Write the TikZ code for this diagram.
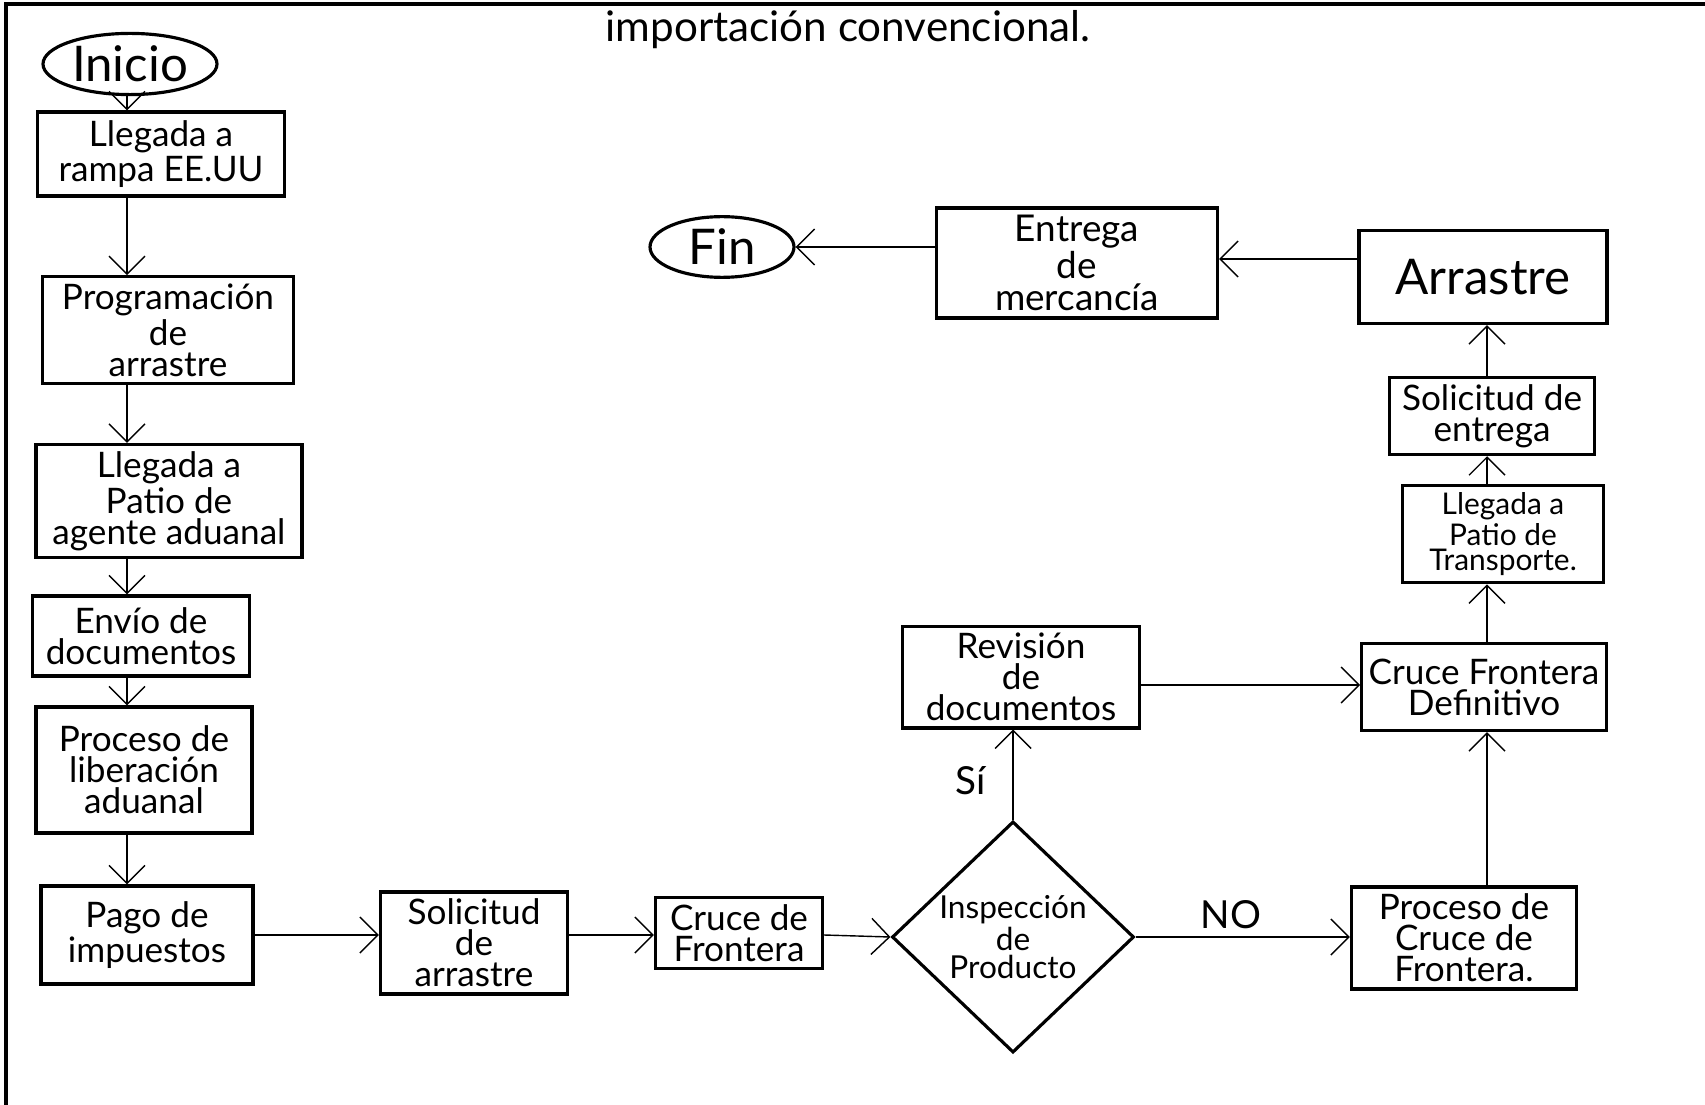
\documentclass[tikz,border=0pt]{standalone}
\usepackage{fontspec}
\setmainfont{Lato}
\usetikzlibrary{positioning,arrows.meta,shapes.geometric}

\begin{document}
\begin{tikzpicture}[
  x=0.1mm, y=-0.1mm,
  paso/.style={rectangle, draw, line width=0.9pt, align=center, inner sep=2pt, font=\fontsize{10}{8.8}\selectfont},
  terminal/.style={ellipse, draw, line width=0.9pt, inner sep=1pt, font=\fontsize{14}{14}\selectfont},
  decision/.style={diamond, draw, line width=0.9pt, align=center, inner sep=0pt, font=\fontsize{9}{8}\selectfont},
  etiqueta/.style={font=\fontsize{11}{11}\selectfont},
  >={Straight Barb[length=1.8mm,width=3.6mm]}
]
  \useasboundingbox (0,0) rectangle (1705,1105);
  \draw[line width=1pt] (6,1105) -- (6,4) -- (1705,4);
  \node[font=\fontsize{12}{12}\selectfont] (titulo) at (848,30) {importación convencional.};

  \coordinate (colizq) at (127,0);
  \coordinate (colder) at (1487,0);
  \coordinate (filainf) at (0,935);
  \coordinate (filarev) at (0,685);
  \coordinate (filaarr) at (0,259);

  \node[terminal, minimum width=1.74cm, minimum height=0.46cm] (inicio) at (130,64) {Inicio};
  \node[paso, minimum width=2.47cm, minimum height=0.84cm] (rampa) at (161,154) {Llegada a\\rampa EE.UU};
  \node[paso, minimum width=2.51cm, minimum height=1.01cm] (programacion) at (168,330) {Programación\\de\\arrastre};
  \node[paso, minimum width=2.66cm, minimum height=1.01cm] (patioagente) at (169,501) {Llegada a\\Patio de\\agente aduanal};
  \node[paso, minimum width=2.17cm, minimum height=0.80cm] (envio) at (141,636) {Envío de\\documentos};
  \node[paso, minimum width=2.16cm, minimum height=1.26cm] (liberacion) at (144,770) {Proceso de\\liberación\\aduanal};
  \node[paso, minimum width=2.12cm, minimum height=0.98cm] (pago) at (147,935) {Pago de\\impuestos};
  \node[paso, minimum width=1.87cm, minimum height=0.87cm] (solarrastre) at (474,943) {Solicitud\\de\\arrastre};
  \node[paso, minimum width=1.67cm, minimum height=0.66cm] (cruce) at (739,933) {Cruce de\\Frontera};
  \node[decision, minimum width=2.42cm, minimum height=2.01cm] (inspeccion) at (1013,937) {Inspección\\de\\Producto};
  \node[paso, minimum width=2.37cm, minimum height=0.92cm] (revision) at (1021,677) {Revisión\\de\\documentos};
  \node[paso, minimum width=2.25cm, minimum height=0.92cm] (procruce) at (1464,938) {Proceso de\\Cruce de\\Frontera.};
  \node[paso, minimum width=2.39cm, minimum height=0.87cm] (definitivo) at (1484,687) {Cruce Frontera\\Definitivo};
  \node[paso, minimum width=2.01cm, minimum height=0.78cm, font=\fontsize{8.5}{7.2}\selectfont] (patiotransp) at (1503,534) {Llegada a\\Patio de\\Transporte.};
  \node[paso, minimum width=2.05cm, minimum height=0.77cm] (solentrega) at (1492,416) {Solicitud de\\entrega};
  \node[paso, minimum width=2.48cm, minimum height=0.93cm, font=\fontsize{14}{14}\selectfont] (arrastre) at (1483,277) {Arrastre};
  \node[paso, minimum width=2.81cm, minimum height=1.03cm, font=\fontsize{10.5}{9}\selectfont] (entrega) at (1077,263) {Entrega\\de\\mercancía};
  \node[terminal, minimum width=1.44cm, minimum height=0.60cm] (fin) at (722,247) {Fin};

  \node[etiqueta] (si) at (971,781) {Sí};
  \node[etiqueta] (no) at (1231,915) {NO};

  \draw[->] (inicio.south -| colizq) -- (rampa.north -| colizq);
  \draw[->] (rampa.south -| colizq) -- (programacion.north -| colizq);
  \draw[->] (programacion.south -| colizq) -- (patioagente.north -| colizq);
  \draw[->] (patioagente.south -| colizq) -- (envio.north -| colizq);
  \draw[->] (envio.south -| colizq) -- (liberacion.north -| colizq);
  \draw[->] (liberacion.south -| colizq) -- (pago.north -| colizq);
  \draw[->] (pago.east |- filainf) -- (solarrastre.west |- filainf);
  \draw[->] (solarrastre.east |- filainf) -- (cruce.west |- filainf);
  \draw[->] (cruce.east |- filainf) -- (inspeccion.west);
  \draw[->] (inspeccion.north) -- (revision.south -| inspeccion.north);
  \draw[->] (inspeccion.east) -- (procruce.west |- inspeccion.east);
  \draw[->] (revision.east |- filarev) -- (definitivo.west |- filarev);
  \draw[->] (procruce.north -| colder) -- (definitivo.south -| colder);
  \draw[->] (definitivo.north -| colder) -- (patiotransp.south -| colder);
  \draw[->] (patiotransp.north -| colder) -- (solentrega.south -| colder);
  \draw[->] (solentrega.north -| colder) -- (arrastre.south -| colder);
  \draw[->] (arrastre.west |- filaarr) -- (entrega.east |- filaarr);
  \draw[->] (entrega.west |- fin.east) -- (fin.east);
\end{tikzpicture}
\end{document}
